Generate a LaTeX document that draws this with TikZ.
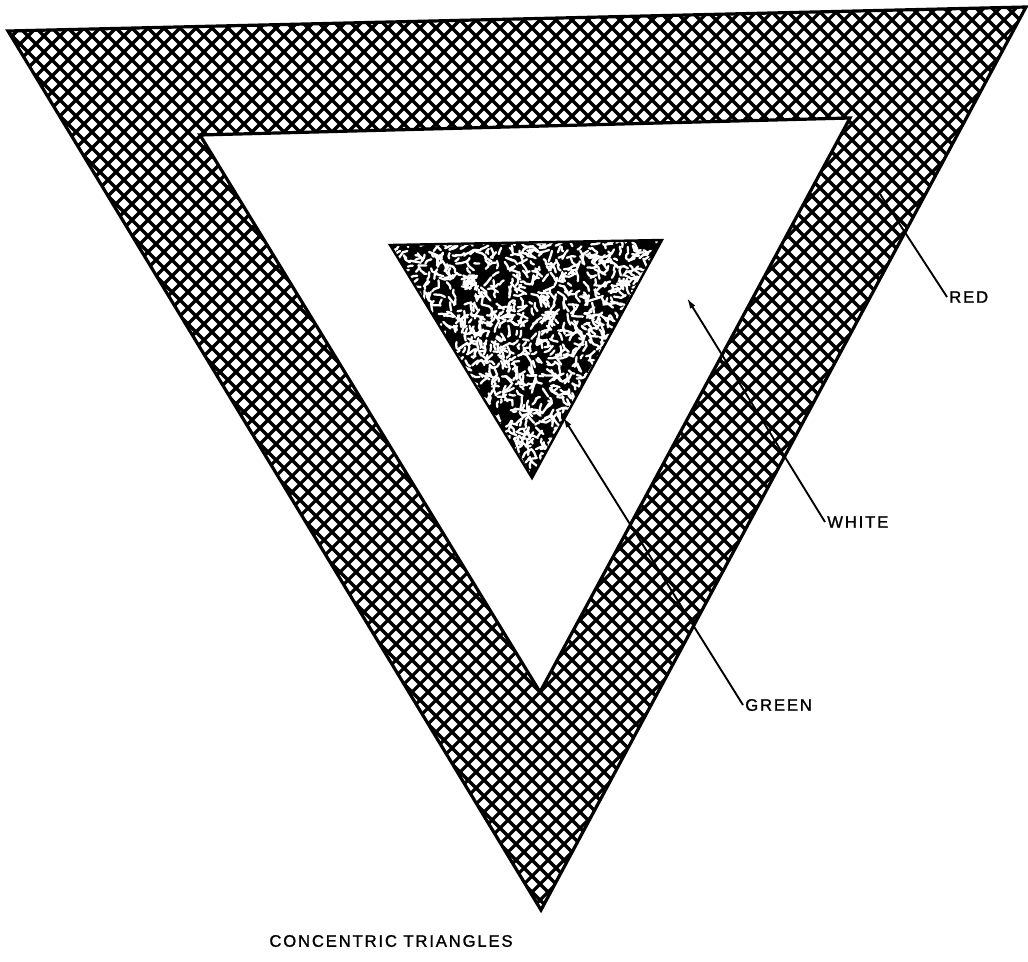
\documentclass[tikz,border=0pt]{standalone}
\usepackage{fontspec}
\newfontfamily\labfont[LetterSpace=11,FakeBold=1.3]{Liberation Sans}
\usetikzlibrary{arrows.meta}
\begin{document}
\begin{tikzpicture}[x=0.75pt,y=-0.75pt,
  hatchline/.style={black, line width=2.4pt},
  edge/.style={black, line width=2.4pt, line join=miter},
  leader/.style={black, line width=1.4pt},
  leaderarrow/.style={leader, -{Latex[length=8pt,width=4.5pt]}},
  lab/.style={font=\labfont\fontsize{12.5}{14}\selectfont, inner sep=1.5pt, anchor=west}]
\useasboundingbox (0,0) rectangle (1028,961);
\fill[white] (0,0) rectangle (1028,961);
% corners
\coordinate (A) at (8,31);
\coordinate (B) at (1026,7);
\coordinate (C) at (541,910);
\coordinate (D) at (200,135);
\coordinate (E) at (850,118);
\coordinate (F) at (540,692);
\coordinate (G1) at (390,245);
\coordinate (G2) at (662,240);
\coordinate (G3) at (532,478);
% red band: cross hatch
\begin{scope}
  \clip (A) -- (B) -- (C) -- cycle;
  \foreach \c in {0,16,...,2100} {\draw[hatchline] (\c,0) -- (\c-1000,1000);}
  \foreach \c in {-1000,-984,...,1100} {\draw[hatchline] (\c,0) -- (\c+1000,1000);}
\end{scope}
\draw[edge] (A) -- (B) -- (C) -- cycle;
% white triangle
\fill[white] (D) -- (E) -- (F) -- cycle;
\draw[edge] (D) -- (E) -- (F) -- cycle;
% green triangle: speckled
\fill[black] (G1) -- (G2) -- (G3) -- cycle;
\begin{scope}
  \clip (G1) -- (G2) -- (G3) -- cycle;
  \pgfmathsetseed{7}
  \foreach \i in {1,...,1700} {
    \pgfmathsetmacro{\px}{388+276*rnd}
    \pgfmathsetmacro{\py}{238+242*rnd}
    \pgfmathsetmacro{\an}{360*rnd}
    \pgfmathsetmacro{\ln}{2+5*rnd}
    \draw[white, line width=1.7pt, line cap=round, line join=round] (\px,\py) -- ++(\an:\ln) -- ++(\an+90*rnd-45:\ln*0.7);
  }
\end{scope}
\draw[edge, line width=1.8pt] (G1) -- (G2) -- (G3) -- cycle;
% labels
\node[lab] (red) at (947,297) {RED};
\node[lab] (white) at (825,522) {WHITE};
\node[lab] (green) at (743,705) {GREEN};
\node[font=\labfont\fontsize{12.5}{14}\selectfont] (title) at (391,941) {CONCENTRIC TRIANGLES};
% leaders
\coordinate (redstart) at (880,194);
\coordinate (whitetip) at (687,298);
\coordinate (greentip) at (563,417);
\draw[leader] (redstart) -- (red.west);
\draw[leaderarrow] (white.west) -- (whitetip);
\draw[leaderarrow] (green.west) -- (greentip);
\end{tikzpicture}
\end{document}
